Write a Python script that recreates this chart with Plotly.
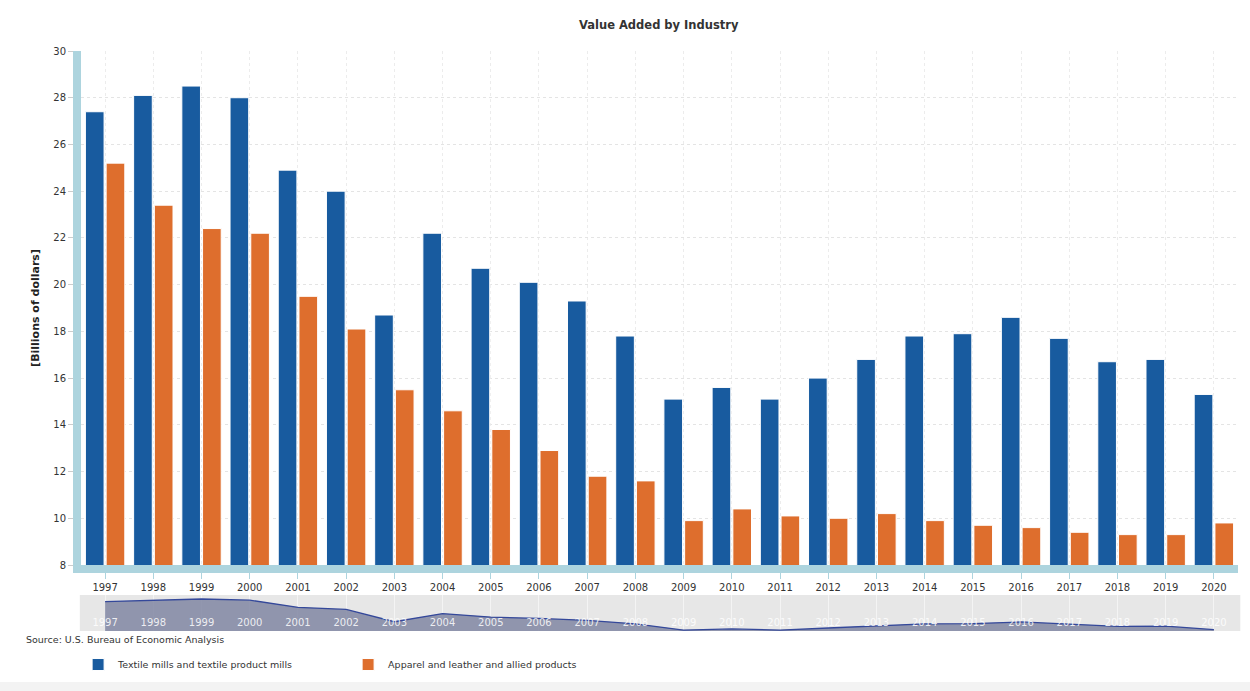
import plotly.graph_objects as go

years = [str(y) for y in range(1997, 2021)]
textile = [27.4, 28.1, 28.5, 28.0, 24.9, 24.0, 18.7, 22.2, 20.7, 20.1, 19.3, 17.8,
           15.1, 15.6, 15.1, 16.0, 16.8, 17.8, 17.9, 18.6, 17.7, 16.7, 16.8, 15.3]
apparel = [25.2, 23.4, 22.4, 22.2, 19.5, 18.1, 15.5, 14.6, 13.8, 12.9, 11.8, 11.6,
           9.9, 10.4, 10.1, 10.0, 10.2, 9.9, 9.7, 9.6, 9.4, 9.3, 9.3, 9.8]
series_names = ["Textile mills and textile product mills", "Apparel and leather and allied products"]
title_text = "Value Added by Industry"
y_title = "[Billions of dollars]"
source_text = "Source: U.S. Bureau of Economic Analysis"
y_ticks = list(range(8, 31, 2))

FONT = "DejaVu Sans"
BLUE = "#185b9f"
ORANGE = "#de6e2d"
BAND = "#add4de"
TXT = "#333333"

fig = go.Figure()
fig.add_trace(go.Bar(x=years, y=textile, name=series_names[0], marker=dict(color=BLUE, line=dict(color="white", width=1)),
                     xaxis="x", yaxis="y"))
fig.add_trace(go.Bar(x=years, y=apparel, name=series_names[1], marker=dict(color=ORANGE, line=dict(color="white", width=1)),
                     xaxis="x", yaxis="y"))
# navigator
fig.add_trace(go.Scatter(x=years, y=textile, mode="lines", fill="tozeroy", fillcolor="rgba(128,134,162,0.85)",
                         line=dict(color="#34489a", width=1.3), showlegend=False, hoverinfo="skip",
                         xaxis="x2", yaxis="y2"))

fig.update_layout(
    width=1250, height=691,
    margin=dict(l=81, r=12, t=51, b=60, autoexpand=False),
    paper_bgcolor="white", plot_bgcolor="white",
    font=dict(family=FONT, size=10, color=TXT),
    title=dict(text="<b>" + title_text + "</b>", x=0.527, xanchor="center", y=0.964, yanchor="middle",
               font=dict(size=11.5, color=TXT, family=FONT)),
    barmode="group", bargap=0.14, bargroupgap=0.1,
    showlegend=True,
    legend=dict(orientation="h", x=-0.0025, xanchor="left", y=-0.0328, yanchor="top",
                font=dict(size=9.5, color=TXT), entrywidth=225, bgcolor="rgba(0,0,0,0)"),
    xaxis=dict(domain=[0, 1], range=[-0.5, 23.5], type="category",
               showline=True, linecolor=BAND, linewidth=8,
               ticks="outside", ticklen=6, tickcolor=BAND, tickwidth=1,
               showgrid=True, gridcolor="#ececec", griddash="dot", gridwidth=1,
               tickfont=dict(size=10, color=TXT), anchor="y", zeroline=False),
    yaxis=dict(domain=[0.1138, 1], range=[8, 30], tickvals=y_ticks,
               showline=True, linecolor=BAND, linewidth=8,
               ticks="outside", ticklen=5, tickcolor="#cccccc",
               showgrid=True, gridcolor="#e4e4e4", griddash="dot", gridwidth=1,
               tickfont=dict(size=10, color=TXT), zeroline=False,
               title=dict(text="<b>" + y_title + "</b>", font=dict(size=11, color="#222"), standoff=14)),
    xaxis2=dict(domain=[0, 1], range=[-0.5, 23.5], type="category", anchor="y2",
                showline=False, showgrid=True, gridcolor="rgba(255,255,255,0.55)", gridwidth=1,
                ticks="", ticklabelposition="inside",
                tickfont=dict(size=10, color="rgba(255,255,255,0.85)"), zeroline=False),
    yaxis2=dict(domain=[0, 0.062], range=[14.7, 30.2], showgrid=False, showticklabels=False,
                showline=False, zeroline=False, ticks=""),
    shapes=[
        dict(type="rect", xref="x2 domain", yref="y2 domain", x0=-0.001, x1=1.002, y0=0, y1=1,
             fillcolor="#e7e7e7", line=dict(width=0), layer="below"),
        dict(type="rect", xref="paper", yref="paper", x0=-0.08, x1=1.02, y0=-0.1034, y1=-0.088,
             fillcolor="#f3f3f3", line=dict(width=0), layer="below"),
    ],
    annotations=[
        dict(text=source_text, xref="paper", yref="paper", x=-0.0492, xanchor="left", y=-0.0155, yanchor="middle",
             showarrow=False, font=dict(size=9.5, color=TXT)),
    ],
)

fig.write_html("out.html")
